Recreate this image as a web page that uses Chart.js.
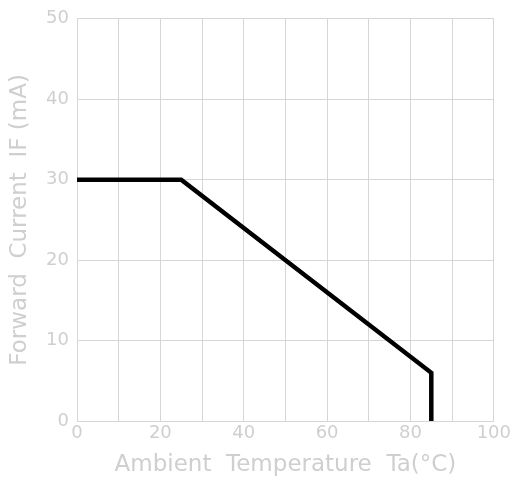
<!DOCTYPE html>
<html>
<head>
<meta charset="utf-8">
<script src="https://cdn.jsdelivr.net/npm/chart.js@4/dist/chart.umd.min.js"></script>
<style>
  html, body { margin: 0; padding: 0; background: #fff; }
  #wrap { width: 513px; height: 483px; }
</style>
</head>
<body>
<div id="wrap"><canvas id="derateChart" width="513" height="483"></canvas></div>
<script>
const tempC = [0, 25, 85, 85];
const currentMA = [30, 30, 6, 0];
const xTitle = "Ambient  Temperature  Ta(°C)";
const yTitle = "Forward  Current  IF (mA)";

const grey = "#cfcfcf";
const ctx = document.getElementById("derateChart");

new Chart(ctx, {
  type: "scatter",
  data: {
    datasets: [{
      data: tempC.map((t, i) => ({ x: t, y: currentMA[i] })),
      showLine: true,
      borderColor: "#000",
      borderWidth: 4.5,
      pointRadius: 0,
      fill: false,
    }],
  },
  options: {
    responsive: false,
    animation: false,
    layout: { padding: { top: 16, right: 19, left: 0, bottom: 0 } },
    plugins: { legend: { display: false }, tooltip: { enabled: false } },
    scales: {
      x: {
        type: "linear", min: 0, max: 100,
        ticks: { stepSize: 20, color: grey, font: { family: "DejaVu Sans", size: 18 }, padding: 2 },
        grid: { color: "#d6d6d6", lineWidth: 1, drawTicks: false },
        border: { color: "#d6d6d6" },
        title: { display: true, text: xTitle, color: grey, font: { family: "DejaVu Sans", size: 23 }, padding: { top: 4 } },
        afterBuildTicks: (s) => { s.ticks = [0,10,20,30,40,50,60,70,80,90,100].map(v => ({ value: v })); },
        afterTickToLabelConversion: (s) => { s.ticks.forEach(t => { t.label = t.value % 20 === 0 ? String(t.value) : ""; }); },
        afterFit: (s) => { s.height = 62; },
      },
      y: {
        type: "linear", min: 0, max: 50,
        ticks: { stepSize: 10, color: grey, font: { family: "DejaVu Sans", size: 18 }, padding: 8 },
        grid: { color: "#d6d6d6", lineWidth: 1, drawTicks: false },
        border: { color: "#d6d6d6" },
        title: { display: true, text: yTitle, color: grey, font: { family: "DejaVu Sans", size: 23 }, padding: { top: 6, bottom: 6 } },
        afterFit: (s) => { s.width = 77; },
      },
    },
  },
});
</script>
</body>
</html>
